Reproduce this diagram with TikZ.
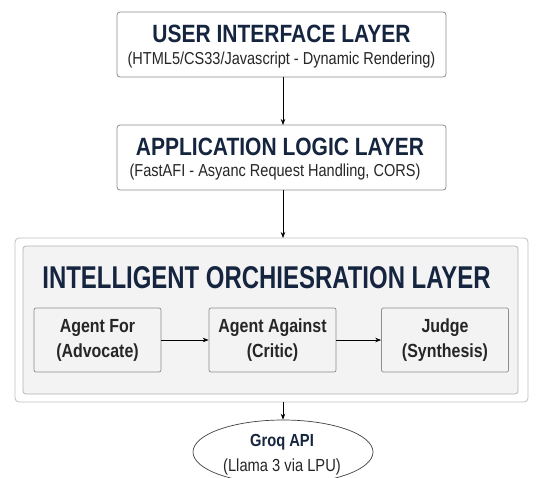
\documentclass[tikz,border=0pt]{standalone}
\usepackage{fontspec}
\setmainfont{Liberation Sans}[FakeStretch=0.84]
\newfontfamily\narrowbold{Liberation Sans}[FakeStretch=0.76]
\usetikzlibrary{arrows.meta,shapes.geometric}
\definecolor{navy}{HTML}{16253F}
\definecolor{boxline}{HTML}{8C8C8C}
\definecolor{panel}{HTML}{F3F3F3}
\tikzset{
  layerbox/.style={draw=boxline, line width=0.8pt, rounded corners=3pt, fill=white},
  agentbox/.style={draw=boxline, line width=0.7pt, rounded corners=2pt, fill=panel,
    minimum width=127pt, minimum height=64pt, align=center,
    font=\fontsize{19}{25}\selectfont\bfseries, text=black!85},
  title/.style={font=\fontsize{25}{28}\selectfont\bfseries, text=navy},
  subtitle/.style={font=\fontsize{17.3}{20}\selectfont, text=black!85},
  flow/.style={-{Stealth[length=6pt,width=4.5pt]}, line width=0.7pt, black}
}
\begin{document}
\begin{tikzpicture}[x=1pt,y=-1pt]
\useasboundingbox (0,0) rectangle (541,477);
\fill[white] (0,0) rectangle (541,477);

% user interface layer
\draw[layerbox] (117,12) rectangle (446,77);
\node[title] (uititle) at (281.5,34) {USER INTERFACE LAYER};
\node[subtitle] (uisub) at (281.5,60) {(HTML5/CS33/Javascript - Dynamic Rendering)};
\coordinate (uibot) at (283,77);

% application logic layer
\draw[layerbox] (117,125) rectangle (446,190);
\node[title] (altitle) at (280,147) {APPLICATION LOGIC LAYER};
\node[subtitle] (alsub) at (275,172) {(FastAFI - Asyanc Request Handling, CORS)};
\coordinate (altop) at (283,125);
\coordinate (albot) at (283,190);

% orchestration container and inner panel
\draw[draw=black!25, line width=0.8pt, rounded corners=4pt, fill=white] (15,238) rectangle (528,402);
\draw[draw=black!30, line width=0.7pt, rounded corners=3pt, fill=panel] (23,246) rectangle (518,394);
\node[font=\narrowbold\fontsize{31.5}{36}\selectfont\bfseries, text=navy] (ortitle) at (266.5,278) {INTELLIGENT ORCHIESRATION LAYER};
\coordinate (ortop) at (283,238);
\coordinate (orbot) at (283,402);

% agents
\node[agentbox] (afor) at (97.5,340) {Agent For\\(Advocate)};
\node[agentbox] (aagainst) at (272.5,340) {Agent Against\\(Critic)};
\node[agentbox] (judge) at (445,340) {Judge\\(Synthesis)};

% external api
\node[draw=black!75, line width=0.7pt, ellipse, minimum width=180pt, minimum height=64pt, fill=white,
  inner sep=0pt] (groq) at (283,452) {};
\node[font=\fontsize{17.5}{20}\selectfont\bfseries, text=navy] (groqname) at (282,442) {Groq API};
\node[font=\fontsize{17.5}{20}\selectfont, text=black!85] (groqsub) at (282,467) {(Llama 3 via LPU)};

% connectors
\draw[flow] (uibot) -- (altop);
\draw[flow] (albot) -- (ortop);
\draw[flow] (afor) -- (aagainst);
\draw[flow] (aagainst) -- (judge);
\draw[flow] (orbot) -- (groq.north);
\end{tikzpicture}
\end{document}
